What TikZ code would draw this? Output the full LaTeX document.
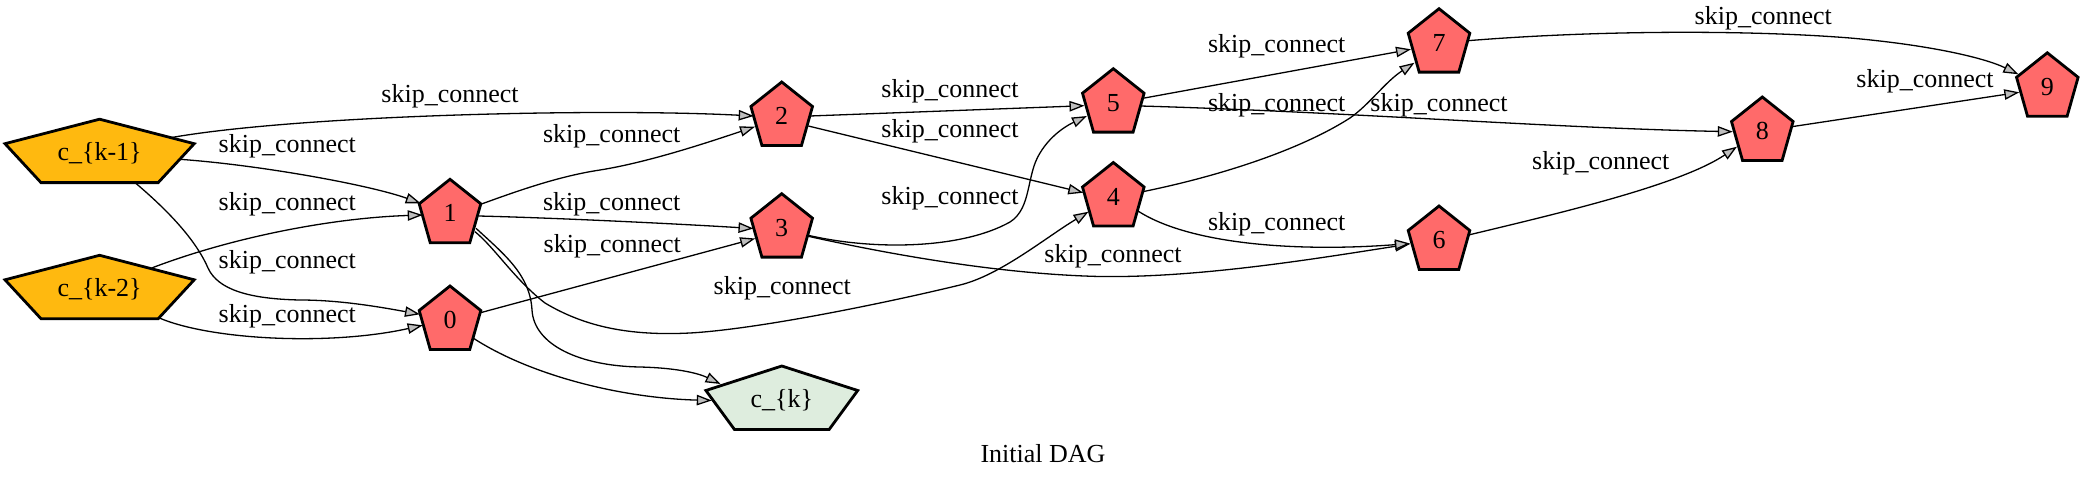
\documentclass[tikz,border=0pt]{standalone}
\usepackage{fontspec}
\setmainfont{Liberation Serif}
\usetikzlibrary{arrows.meta,calc}
\definecolor{nodered}{RGB}{255,106,106}
\definecolor{nodeorange}{RGB}{255,185,15}
\definecolor{nodegreen}{RGB}{222,237,222}
\definecolor{arrowgray}{RGB}{190,190,190}
\tikzset{
  pentline/.style={draw=black, line width=1.4pt, line join=miter},
  nodetext/.style={inner sep=0pt, font=\fontsize{13}{15}\selectfont},
  lbl/.style={inner sep=0pt, font=\fontsize{13}{15}\selectfont},
  edge/.style={draw=black, line width=0.65pt, -{Triangle[length=7.5pt,width=5.2pt,fill=arrowgray]}}
}
\newcommand{\pentnode}[7]{%
  \filldraw[pentline,fill=#6,shift={(#2,#3)}] (0,-34) -- (#4,-9.5) -- (#5,29.4) -- (-#5,29.4) -- (-#4,-9.5) -- cycle;
  \node[nodetext] (#1) at (#2,#3) {#7};}
\begin{document}
\begin{tikzpicture}[x=0.5pt,y=-0.5pt]
\useasboundingbox (0,0) rectangle (2086,482);
% nodes
\pentnode{ck1}{99.6}{153.2}{94.6}{58.6}{nodeorange}{c\_\{k-1\}}
\pentnode{ck2}{99.6}{289.3}{94.6}{58.6}{nodeorange}{c\_\{k-2\}}
\pentnode{n1}{450}{213.3}{30.8}{19.8}{nodered}{1}
\pentnode{n0}{450}{320}{30.8}{19.8}{nodered}{0}
\pentnode{n2}{781.7}{116}{30.8}{19.8}{nodered}{2}
\pentnode{n3}{781.7}{227.7}{30.8}{19.8}{nodered}{3}
\pentnode{ck}{781.8}{400}{75.9}{47.4}{nodegreen}{c\_\{k\}}
\pentnode{n5}{1113.3}{102.7}{30.8}{19.8}{nodered}{5}
\pentnode{n4}{1113.3}{196.5}{30.8}{19.8}{nodered}{4}
\pentnode{n7}{1439}{42.7}{30.8}{19.8}{nodered}{7}
\pentnode{n6}{1439}{240}{30.8}{19.8}{nodered}{6}
\pentnode{n8}{1762.3}{131}{30.8}{19.8}{nodered}{8}
\pentnode{n9}{2047.3}{86.8}{30.8}{19.8}{nodered}{9}
% edges
\draw[edge] ($(ck1)+(72.1,-15.7)$) .. controls (300,115) and (600,108) .. ($(n2)+(-28,0)$);
\draw[edge] ($(ck1)+(80.2,6.1)$) .. controls (260,165) and (370,185) .. ($(n1)+(-29.3,-10)$);
\draw[edge] ($(ck2)+(52.1,-21.3)$) .. controls (230,238) and (330,218) .. ($(n1)+(-27.3,1.7)$);
\draw[edge] ($(ck1)+(35.4,29.4)$) .. controls (165,208) and (195,238) .. (208,268) .. controls (218,290) and (250,299) .. (300,300) .. controls (340,300) and (380,307) .. ($(n0)+(-30,-5.7)$);
\draw[edge] ($(ck2)+(59.1,28.4)$) .. controls (210,340) and (330,346) .. ($(n0)+(-27.3,5.3)$);
\draw[edge] ($(n1)+(31.5,-9.3)$) .. controls (520,190) and (560,176) .. (600,170) .. controls (650,162) and (712,141) .. ($(n2)+(-26.7,10.7)$);
\draw[edge] ($(n1)+(28.5,2.7)$) .. controls (560,218) and (680,224) .. ($(n3)+(-28.2,0.8)$);
\draw[edge] ($(n0)+(30.5,-7.3)$) -- ($(n3)+(-26.5,10.8)$);
\draw[edge] ($(n1)+(25,18.4)$) .. controls (495,248) and (515,280) .. (545,303) .. controls (585,327) and (630,336) .. (690,333) .. controls (760,329) and (890,302) .. (960,285) .. controls (1000,275.3) and (1045,238) .. ($(n4)+(-24.8,15.2)$);
\draw[edge] ($(n1)+(26,15)$) .. controls (505,255) and (530,275) .. (532,310) .. controls (534,345) and (580,366) .. (640,367) .. controls (680,368) and (700,374) .. ($(ck)+(-61.3,-16)$);
\draw[edge] ($(n0)+(23.5,18.3)$) .. controls (530,375) and (620,398) .. ($(ck)+(-70,0.5)$);
\draw[edge] ($(n2)+(28.3,0)$) -- ($(n5)+(-28.8,3)$);
\draw[edge] ($(n2)+(26.6,10)$) -- ($(n4)+(-30,-3.8)$);
\draw[edge] ($(n3)+(25.3,7.3)$) .. controls (870,250) and (960,250) .. (1010,222) .. controls (1032,208) and (1026,175) .. (1040,153) .. controls (1052,133) and (1070,124) .. ($(n5)+(-26.3,13.3)$);
\draw[edge] ($(n3)+(25.3,8.3)$) .. controls (870,250) and (990,274) .. (1100,276.5) .. controls (1200,278) and (1320,258) .. ($(n6)+(-29,4)$);
\draw[edge] ($(n5)+(29.5,-4.4)$) -- ($(n7)+(-28,6.6)$);
\draw[edge] ($(n5)+(27.2,3.3)$) .. controls (1350,112) and (1550,128) .. ($(n8)+(-29.5,0.7)$);
\draw[edge] ($(n4)+(29.4,-4.8)$) .. controls (1220,176) and (1300,150) .. (1350,118) .. controls (1370,104) and (1385,82) .. ($(n7)+(-24.5,20)$);
\draw[edge] ($(n4)+(24.2,14.2)$) .. controls (1190,245) and (1300,252) .. ($(n6)+(-29,3.5)$);
\draw[edge] ($(n7)+(28.8,-2)$) .. controls (1600,30) and (1750,30) .. (1850,38) .. controls (1930,45) and (1985,58) .. ($(n9)+(-29,-12.5)$);
\draw[edge] ($(n8)+(29.4,-4.3)$) -- ($(n9)+(-28,5.5)$);
\draw[edge] ($(n6)+(29.5,-5)$) .. controls (1560,213) and (1680,185) .. ($(n8)+(-25.3,15.7)$);
% edge labels
\node[lbl] (l1) at (450,96.7) {skip\_connect};
\node[lbl] (l2) at (287.3,146.7) {skip\_connect};
\node[lbl] (l3) at (287.3,204) {skip\_connect};
\node[lbl] (l4) at (287.3,262.7) {skip\_connect};
\node[lbl] (l5) at (287.3,316) {skip\_connect};
\node[lbl] (l6) at (611.7,136.7) {skip\_connect};
\node[lbl] (l7) at (611.7,204) {skip\_connect};
\node[lbl] (l8) at (612.3,246.7) {skip\_connect};
\node[lbl] (l9) at (782.3,288.7) {skip\_connect};
\node[lbl] (l10) at (950,91.7) {skip\_connect};
\node[lbl] (l11) at (950,131.7) {skip\_connect};
\node[lbl] (l12) at (950,198.3) {skip\_connect};
\node[lbl] (l13) at (1113,256) {skip\_connect};
\node[lbl] (l14) at (1276.7,46.7) {skip\_connect};
\node[lbl] (l15) at (1276.7,105) {skip\_connect};
\node[lbl] (l16) at (1439,105) {skip\_connect};
\node[lbl] (l17) at (1276.7,224) {skip\_connect};
\node[lbl] (l18) at (1763.3,18.3) {skip\_connect};
\node[lbl] (l19) at (1925,81.7) {skip\_connect};
\node[lbl] (l20) at (1600.8,163.3) {skip\_connect};
\node[lbl] (title) at (1043,454) {Initial DAG};
\end{tikzpicture}
\end{document}
